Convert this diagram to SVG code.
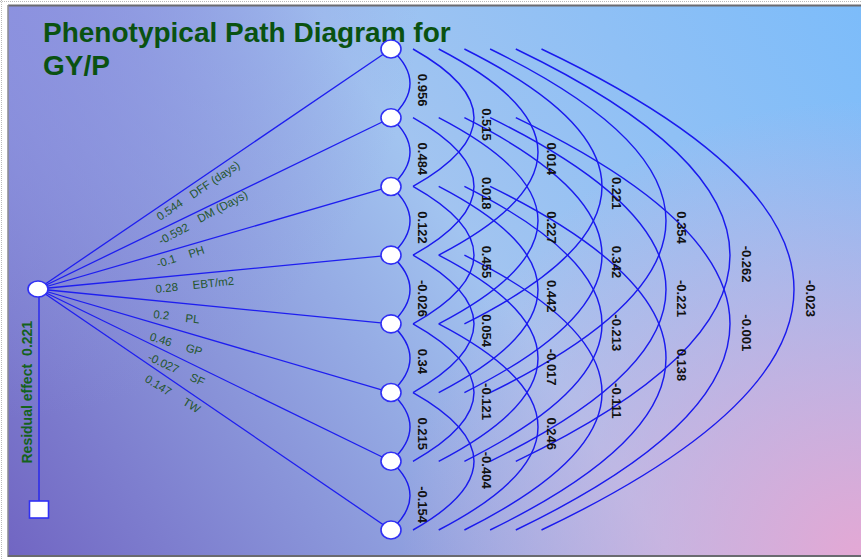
<svg xmlns="http://www.w3.org/2000/svg" width="861" height="560" viewBox="0 0 861 560">
<defs>
<linearGradient id="bg" x1="861" y1="0" x2="0" y2="560" gradientUnits="userSpaceOnUse">
<stop offset="0" stop-color="#7cbcfa"/>
<stop offset="0.45" stop-color="#a2c4f0"/>
<stop offset="1" stop-color="#7064c2"/>
</linearGradient>
<radialGradient id="pink" cx="861" cy="560" r="460" gradientUnits="userSpaceOnUse">
<stop offset="0" stop-color="#e4a8d4" stop-opacity="1"/>
<stop offset="1" stop-color="#e4a8d4" stop-opacity="0"/>
</radialGradient>
<radialGradient id="tl" cx="0" cy="0" r="420" gradientUnits="userSpaceOnUse">
<stop offset="0" stop-color="#8c90e0" stop-opacity="0.85"/>
<stop offset="1" stop-color="#8c90e0" stop-opacity="0"/>
</radialGradient>
<style>
.ln{stroke:#1e1ef0;stroke-width:1.3;fill:none}
.arc{stroke:#1a1aee;stroke-width:1.45;fill:none}
.node{fill:#ffffff;stroke:#3030f4;stroke-width:1.6}
.val{font-family:"Liberation Sans",Arial,sans-serif;font-size:13px;font-weight:bold;fill:#111111}
.lab{font-family:"Liberation Sans",Arial,sans-serif;font-size:11.5px;fill:#24562c}
.title{font-family:"Liberation Sans",Arial,sans-serif;font-size:28px;font-weight:bold;fill:#0a5211}
.res{font-family:"Liberation Sans",Arial,sans-serif;font-size:14px;font-weight:bold;fill:#14621c}
</style>
</defs>
<rect x="0" y="0" width="861" height="560" fill="#ffffff"/>
<line x1="1.5" y1="0" x2="1.5" y2="560" stroke="#bbbbbb" stroke-width="1" stroke-dasharray="1,1"/>
<line x1="0" y1="1.5" x2="861" y2="1.5" stroke="#bbbbbb" stroke-width="1" stroke-dasharray="1,1"/>
<g id="background">
<rect x="8" y="6" width="853" height="550" fill="url(#bg)"/>
<rect x="8" y="6" width="853" height="550" fill="url(#pink)"/>
<rect x="8" y="6" width="853" height="550" fill="url(#tl)"/>
<line x1="8" y1="5.5" x2="861" y2="5.5" stroke="#6a6a70" stroke-width="2"/>
<line x1="8" y1="5" x2="8" y2="557" stroke="#8a8a90" stroke-width="1.5"/>
<line x1="8" y1="556" x2="861" y2="556" stroke="#6a6a70" stroke-width="2"/>
</g>
<g id="title">
<text class="title" x="43" y="42">Phenotypical Path Diagram for</text>
<text class="title" x="43" y="75">GY/P</text>
</g>
<g id="connectors">
<line class="ln" x1="38" y1="289" x2="391" y2="49"/>
<line class="ln" x1="38" y1="289" x2="391" y2="117.71"/>
<line class="ln" x1="38" y1="289" x2="391" y2="186.43"/>
<line class="ln" x1="38" y1="289" x2="391" y2="255.14"/>
<line class="ln" x1="38" y1="289" x2="391" y2="323.86"/>
<line class="ln" x1="38" y1="289" x2="391" y2="392.57"/>
<line class="ln" x1="38" y1="289" x2="391" y2="461.29"/>
<line class="ln" x1="38" y1="289" x2="391" y2="530"/>
<line class="ln" x1="39" y1="297" x2="39" y2="501"/>
<path class="arc" d="M391 49Q429 83.36 391 117.71"/>
<path class="arc" d="M391 117.71Q429 152.07 391 186.43"/>
<path class="arc" d="M391 186.43Q429 220.79 391 255.14"/>
<path class="arc" d="M391 255.14Q429 289.5 391 323.86"/>
<path class="arc" d="M391 323.86Q429 358.21 391 392.57"/>
<path class="arc" d="M391 392.57Q429 426.93 391 461.29"/>
<path class="arc" d="M391 461.29Q429 495.64 391 530"/>
<path class="arc" d="M413 49Q535 117.71 413 186.43"/>
<path class="arc" d="M413 117.71Q535 186.43 413 255.14"/>
<path class="arc" d="M413 186.43Q535 255.14 413 323.86"/>
<path class="arc" d="M413 255.14Q535 323.86 413 392.57"/>
<path class="arc" d="M413 323.86Q535 392.57 413 461.29"/>
<path class="arc" d="M413 392.57Q535 461.29 413 530"/>
<path class="arc" d="M438.7 49Q637.3 152.07 438.7 255.14"/>
<path class="arc" d="M438.7 117.71Q637.3 220.79 438.7 323.86"/>
<path class="arc" d="M438.7 186.43Q637.3 289.5 438.7 392.57"/>
<path class="arc" d="M438.7 255.14Q637.3 358.21 438.7 461.29"/>
<path class="arc" d="M438.7 323.86Q637.3 426.93 438.7 530"/>
<path class="arc" d="M464.4 49Q739.6 186.43 464.4 323.86"/>
<path class="arc" d="M464.4 117.71Q739.6 255.14 464.4 392.57"/>
<path class="arc" d="M464.4 186.43Q739.6 323.86 464.4 461.29"/>
<path class="arc" d="M464.4 255.14Q739.6 392.57 464.4 530"/>
<path class="arc" d="M490.1 49Q841.9 220.79 490.1 392.57"/>
<path class="arc" d="M490.1 117.71Q841.9 289.5 490.1 461.29"/>
<path class="arc" d="M490.1 186.43Q841.9 358.21 490.1 530"/>
<path class="arc" d="M515.8 49Q944.2 255.14 515.8 461.29"/>
<path class="arc" d="M515.8 117.71Q944.2 323.86 515.8 530"/>
<path class="arc" d="M541.5 49Q1046.5 289.5 541.5 530"/>
</g>
<g id="path-labels">
<text class="lab" transform="translate(160,221) rotate(-34)">0.544</text>
<text class="lab" transform="translate(193,199) rotate(-34)">DFF (days)</text>
<text class="lab" transform="translate(161,245) rotate(-28)">-0.592</text>
<text class="lab" transform="translate(200,223) rotate(-28)">DM (Days)</text>
<text class="lab" transform="translate(158,268) rotate(-18)">-0.1</text>
<text class="lab" transform="translate(190,258) rotate(-18)">PH</text>
<text class="lab" transform="translate(156,293) rotate(-6)">0.28</text>
<text class="lab" transform="translate(193,289) rotate(-6)">EBT/m2</text>
<text class="lab" transform="translate(153,318) rotate(6)">0.2</text>
<text class="lab" transform="translate(185,322) rotate(6)">PL</text>
<text class="lab" transform="translate(149,340) rotate(17)">0.46</text>
<text class="lab" transform="translate(185,351) rotate(17)">GP</text>
<text class="lab" transform="translate(147,360) rotate(25)">-0.027</text>
<text class="lab" transform="translate(189,380) rotate(25)">SF</text>
<text class="lab" transform="translate(144,381) rotate(32)">0.147</text>
<text class="lab" transform="translate(182,404) rotate(32)">TW</text>
</g>
<g id="corr-labels">
<text class="val" transform="translate(418.4,73.86) rotate(90)">0.956</text>
<text class="val" transform="translate(418.4,142.57) rotate(90)">0.484</text>
<text class="val" transform="translate(418.4,211.29) rotate(90)">0.122</text>
<text class="val" transform="translate(418.4,280) rotate(90)">-0.026</text>
<text class="val" transform="translate(418.4,348.71) rotate(90)">0.34</text>
<text class="val" transform="translate(418.4,417.43) rotate(90)">0.215</text>
<text class="val" transform="translate(418.4,486.14) rotate(90)">-0.154</text>
<text class="val" transform="translate(482.4,108.21) rotate(90)">0.515</text>
<text class="val" transform="translate(482.4,176.93) rotate(90)">0.018</text>
<text class="val" transform="translate(482.4,245.64) rotate(90)">0.455</text>
<text class="val" transform="translate(482.4,314.36) rotate(90)">0.054</text>
<text class="val" transform="translate(482.4,383.07) rotate(90)">-0.121</text>
<text class="val" transform="translate(482.4,451.79) rotate(90)">-0.404</text>
<text class="val" transform="translate(546.9,142.57) rotate(90)">0.014</text>
<text class="val" transform="translate(546.9,211.29) rotate(90)">0.227</text>
<text class="val" transform="translate(546.9,280) rotate(90)">0.442</text>
<text class="val" transform="translate(546.9,348.71) rotate(90)">-0.017</text>
<text class="val" transform="translate(546.9,417.43) rotate(90)">0.246</text>
<text class="val" transform="translate(612.4,176.93) rotate(90)">0.221</text>
<text class="val" transform="translate(612.4,245.64) rotate(90)">0.342</text>
<text class="val" transform="translate(612.4,314.36) rotate(90)">-0.213</text>
<text class="val" transform="translate(612.4,383.07) rotate(90)">-0.111</text>
<text class="val" transform="translate(677.4,211.29) rotate(90)">0.354</text>
<text class="val" transform="translate(677.4,280) rotate(90)">-0.221</text>
<text class="val" transform="translate(677.4,348.71) rotate(90)">0.138</text>
<text class="val" transform="translate(742.4,245.64) rotate(90)">-0.262</text>
<text class="val" transform="translate(742.4,314.36) rotate(90)">-0.001</text>
<text class="val" transform="translate(805.9,280) rotate(90)">-0.023</text>
</g>
<g id="node-source"><ellipse class="node" cx="38" cy="289" rx="10" ry="8"/></g>
<g id="node-residual"><rect class="node" x="29.5" y="501" width="19" height="17"/></g>
<g id="residual-label"><text class="res" transform="translate(31.5,463.5) rotate(-90)">Residual effect<tspan dx="8">0.221</tspan></text></g>
<g id="node-1"><ellipse class="node" cx="391" cy="49" rx="10" ry="9"/></g>
<g id="node-2"><ellipse class="node" cx="391" cy="117.71" rx="10" ry="9"/></g>
<g id="node-3"><ellipse class="node" cx="391" cy="186.43" rx="10" ry="9"/></g>
<g id="node-4"><ellipse class="node" cx="391" cy="255.14" rx="10" ry="9"/></g>
<g id="node-5"><ellipse class="node" cx="391" cy="323.86" rx="10" ry="9"/></g>
<g id="node-6"><ellipse class="node" cx="391" cy="392.57" rx="10" ry="9"/></g>
<g id="node-7"><ellipse class="node" cx="391" cy="461.29" rx="10" ry="9"/></g>
<g id="node-8"><ellipse class="node" cx="391" cy="530" rx="10" ry="9"/></g>
</svg>
